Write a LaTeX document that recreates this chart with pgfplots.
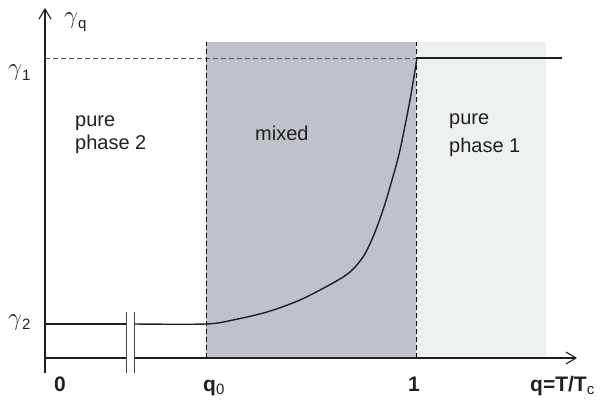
\documentclass[border=0pt]{standalone}
\usepackage{pgfplots}
\pgfplotsset{compat=1.18}
\usetikzlibrary{arrows.meta}
\usepackage{fontspec}
\setmainfont{Liberation Sans}
\definecolor{mixgray}{RGB}{191,195,201}
\definecolor{lightgray2}{RGB}{238,241,242}
\definecolor{txt}{RGB}{35,31,32}
\newcommand{\gam}{\fontsize{23}{24}\selectfont$\gamma$}
\begin{document}
\begin{tikzpicture}
\begin{axis}[
  width=601pt, height=402pt, scale only axis,
  xmin=0, xmax=601, ymin=0, ymax=402,
  axis lines=none, clip=false,
]
% bounding box
\addplot[draw=none] coordinates {(0,0) (601,402)};
% regions
\addplot[fill=mixgray, draw=none] coordinates {(206,44) (416,44) (416,360) (206,360)} -- cycle;
\addplot[fill=lightgray2, draw=none] coordinates {(416,44) (546,44) (546,360) (416,360)} -- cycle;
% dashed lines
\addplot[dash pattern=on 5pt off 3pt, color=black!65, line width=0.8pt] coordinates {(45,344) (416,344)};
\addplot[dash pattern=on 5pt off 3pt, color=black, line width=0.8pt] coordinates {(206,44) (206,360)};
\addplot[dash pattern=on 5pt off 3pt, color=black, line width=0.8pt] coordinates {(416,44) (416,360)};
% axes
\addplot[line width=1.1pt, color=txt, -{Straight Barb[length=10pt,width=12pt,line width=1.1pt]}] coordinates {(45,29) (45,394)};
\addplot[line width=1.1pt, color=txt] coordinates {(45,44) (126,44)};
\addplot[line width=1.1pt, color=txt, -{Straight Barb[length=10pt,width=12pt,line width=1.1pt]}] coordinates {(134,44) (577,44)};
% break marks
\addplot[line width=0.9pt, color=black!70] coordinates {(126,29) (126,90)};
\addplot[line width=0.9pt, color=black!70] coordinates {(134,29) (134,90)};
% curve
\addplot[line width=1.1pt, color=txt] coordinates {(45,78) (126,78)};
\addplot[line width=1.4pt, color=txt, smooth, tension=0.5] coordinates {
 (134,78) (206,78) (233,82) (267,90) (300,102) (333,119) (350,130) (363,145)
 (373,165) (383,192) (392,222) (400,252) (410,302) (417,344)};
\addplot[line width=1.4pt, color=txt] coordinates {(417,344) (562,344)};
% labels
\node[anchor=base west, inner sep=0pt, text=txt] at (axis cs:64,378) {\gam\raisebox{-0.4ex}{\fontsize{15}{15}\selectfont q}};
\node[anchor=base west, inner sep=0pt, text=txt] at (axis cs:8,326) {\gam\raisebox{-0.4ex}{\fontsize{15}{15}\selectfont 1}};
\node[anchor=base west, inner sep=0pt, text=txt] at (axis cs:8,77) {\gam\raisebox{-0.4ex}{\fontsize{15}{15}\selectfont 2}};
\node[anchor=base, inner sep=0pt, text=txt, font=\bfseries\fontsize{21}{24}\selectfont] at (axis cs:60,11) {0};
\node[anchor=base west, inner sep=0pt, text=txt, font=\bfseries\fontsize{21}{24}\selectfont] at (axis cs:203,11) {q\raisebox{-0.3ex}{\mdseries\fontsize{15}{15}\selectfont 0}};
\node[anchor=base, inner sep=0pt, text=txt, font=\bfseries\fontsize{21}{24}\selectfont] at (axis cs:414,11) {1};
\node[anchor=base west, inner sep=0pt, text=txt, font=\bfseries\fontsize{21}{24}\selectfont] at (axis cs:530,11) {q=T/T\raisebox{-0.3ex}{\mdseries\fontsize{15}{15}\selectfont c}};
\node[anchor=base west, inner sep=0pt, text=txt, font=\fontsize{20}{23}\selectfont] at (axis cs:75,275) {pure};
\node[anchor=base west, inner sep=0pt, text=txt, font=\fontsize{20}{23}\selectfont] at (axis cs:75,252) {phase 2};
\node[anchor=base west, inner sep=0pt, text=txt, font=\fontsize{20}{23}\selectfont] at (axis cs:255,261) {mixed};
\node[anchor=base west, inner sep=0pt, text=txt, font=\fontsize{20}{23}\selectfont] at (axis cs:449,277) {pure};
\node[anchor=base west, inner sep=0pt, text=txt, font=\fontsize{20}{23}\selectfont] at (axis cs:449,249) {phase 1};
\end{axis}
\end{tikzpicture}
\end{document}
